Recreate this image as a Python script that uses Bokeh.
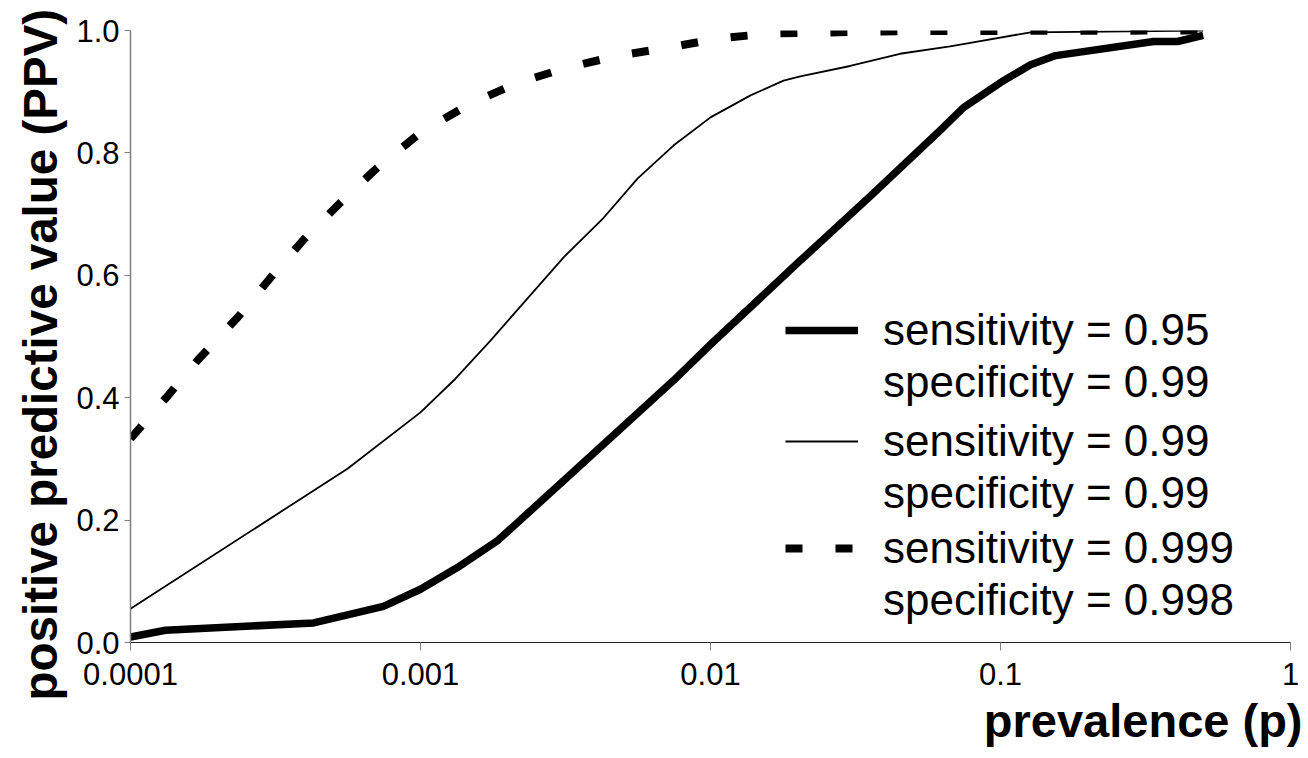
from bokeh.plotting import figure
from bokeh.models import (FixedTicker, CustomJSTickFormatter, PrintfTickFormatter, Range1d,
                          Legend, LegendItem, Title)
from bokeh.embed import file_html
from bokeh.resources import INLINE

# ---- data ----
x_ticks = [0.0001, 0.001, 0.01, 0.1, 1]
x_tick_labels = ["0.0001", "0.001", "0.01", "0.1", "1"]
y_ticks = [0.0, 0.2, 0.4, 0.6, 0.8, 1.0]

# sensitivity = 0.95, specificity = 0.99 (thick solid)
prev_a = [0.0001, 0.000132, 0.000428, 0.000745, 0.001, 0.00134, 0.00185, 0.00321,
          0.00745, 0.01, 0.0204, 0.0357, 0.062, 0.0745, 0.1, 0.127, 0.155, 0.337, 0.408, 0.5]
ppv_a = [0.009, 0.020, 0.032, 0.059, 0.087, 0.1225, 0.167, 0.270,
         0.428, 0.487, 0.624, 0.730, 0.837, 0.874, 0.915, 0.944, 0.959, 0.982, 0.982, 0.992]

# sensitivity = 0.99, specificity = 0.99 (thin solid)
prev_b = [0.0001, 0.00056, 0.001, 0.00132, 0.00174, 0.00311, 0.00428, 0.0056, 0.00745,
          0.01, 0.01374, 0.01786, 0.0204, 0.0303, 0.045, 0.067, 0.0769, 0.127, 0.5]
ppv_b = [0.055, 0.284, 0.376, 0.431, 0.493, 0.629, 0.694, 0.758, 0.812,
         0.858, 0.894, 0.918, 0.925, 0.942, 0.962, 0.974, 0.979, 0.997, 1.0]

# sensitivity = 0.999, specificity = 0.998 (thick dashed)
prev_c = [0.0001, 0.000135, 0.000171, 0.000234, 0.000304, 0.000395, 0.00053, 0.00071,
          0.001, 0.00149, 0.00218, 0.00324, 0.00482, 0.00717, 0.01066, 0.01585, 0.045, 0.5]
ppv_c = [0.333, 0.404, 0.462, 0.531, 0.596, 0.658, 0.719, 0.776,
         0.833, 0.881, 0.915, 0.940, 0.959, 0.972, 0.987, 0.995, 0.999, 1.0]

labels_a = ["sensitivity = 0.95", "specificity = 0.99"]
labels_b = ["sensitivity = 0.99", "specificity = 0.99"]
labels_c = ["sensitivity = 0.999", "specificity = 0.998"]

x_label = "prevalence (p)"
y_label = "positive predictive value (PPV)"

FONT = "Liberation Sans"

p = figure(width=1308, height=758, x_axis_type="log",
           x_range=Range1d(0.0001, 1), y_range=Range1d(0, 1),
           output_backend="svg", toolbar_location=None,
           min_border_left=130, min_border_right=18,
           min_border_top=30, min_border_bottom=116)
p.outline_line_color = None
p.grid.visible = False
p.background_fill_color = "white"
p.border_fill_color = "white"

# x axis
xa = p.xaxis[0]
xa.ticker = FixedTicker(ticks=x_ticks)
xa.formatter = CustomJSTickFormatter(
    args=dict(xt=x_ticks, xl=x_tick_labels),
    code="""
    for (let i = 0; i < xt.length; i++) {
        if (Math.abs(Math.log10(xt[i]) - Math.log10(tick)) < 1e-6) return xl[i];
    }
    return '';
    """)
xa.minor_tick_line_color = None
xa.major_tick_in = 0
xa.major_tick_out = 8
xa.major_tick_line_color = "#808080"
xa.axis_line_color = "#222222"
xa.axis_line_width = 1
xa.major_label_text_font = FONT
xa.major_label_text_font_size = "31px"
xa.major_label_text_color = "black"
xa.major_label_standoff = 12

# y axis
ya = p.yaxis[0]
ya.ticker = FixedTicker(ticks=y_ticks)
ya.formatter = PrintfTickFormatter(format="%.1f")
ya.minor_tick_line_color = None
ya.major_tick_in = 0
ya.major_tick_out = 6
ya.major_tick_line_color = "#808080"
ya.axis_line_color = "#808080"
ya.axis_line_width = 1.5
ya.major_label_text_font = FONT
ya.major_label_text_font_size = "31px"
ya.major_label_text_color = "black"
ya.major_label_standoff = 5

# lines
r_a = p.line(prev_a, ppv_a, line_color="black", line_width=7.5, line_join="round")
r_b = p.line(prev_b, ppv_b, line_color="black", line_width=1.8, line_join="round")
r_c = p.line(prev_c, ppv_c, line_color="black", line_width=8, line_dash="17 33",
             line_cap="butt")
dummy = p.line(x=[], y=[], line_alpha=0)


def make_legend(renderer, labels, bottom_offset):
    items = [LegendItem(label=labels[0], renderers=[renderer]),
             LegendItem(label=labels[1], renderers=[dummy])]
    return Legend(items=items, location=(655, bottom_offset), orientation="vertical",
                  glyph_width=73, glyph_height=20, label_height=50, spacing=2,
                  padding=0, margin=0, label_standoff=25,
                  border_line_color=None, background_fill_alpha=0,
                  label_text_font=FONT, label_text_font_size="44px",
                  label_text_color="black")


p.add_layout(make_legend(r_a, labels_a, 235))
p.add_layout(make_legend(r_b, labels_b, 124))
p.add_layout(make_legend(r_c, labels_c, 17))

# axis titles
t_left = Title(text=y_label, align="left", offset=-58, standoff=14,
               vertical_align="bottom", text_font=FONT, text_font_size="47.5px",
               text_font_style="bold", text_color="black")
p.add_layout(t_left, "left")
t_below = Title(text=x_label, align="right", offset=-12, standoff=12,
                vertical_align="top", text_font=FONT, text_font_size="47px",
                text_font_style="bold", text_color="black")
p.add_layout(t_below, "below")

open("out.html", "w").write(file_html(p, INLINE))
